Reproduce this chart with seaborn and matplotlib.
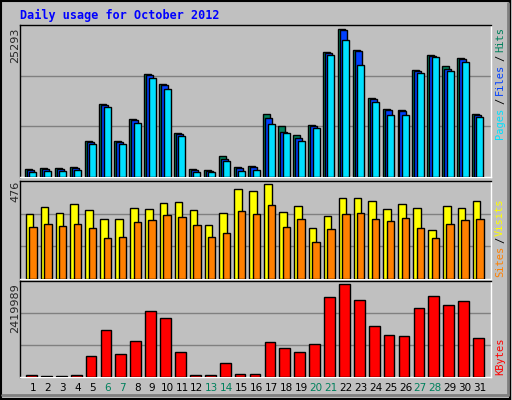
import numpy as np
import matplotlib
matplotlib.use("Agg")
import matplotlib.pyplot as plt
import seaborn as sns

days = list(range(1, 32))
hits = [1316,1490,1490,1660,6120,12470,6120,9900,17620,15910,7500,1316,1144,3600,1660,1830,
        10760,8700,7150,8870,21400,25293,21740,13500,11620,11440,18310,20890,19000,20370,10760]
files = [1150,1320,1320,1490,5950,12300,5950,9720,17450,15740,7330,1150,1000,3030,1490,1660,
         10070,7760,6630,8700,21230,25120,21570,13330,11440,11270,18140,20720,18480,20200,10590]
pages = [800,970,970,1144,5610,11960,5610,9210,16940,15050,6980,800,800,2690,970,1144,
         9040,7500,6120,8350,20890,23460,19170,12820,10590,10590,17800,20540,18140,19690,10240]
sites = [326,362,331,378,347,300,300,357,352,383,388,347,274,331,455,445,
         476,336,367,259,316,409,409,393,352,378,357,248,367,357,393]
visits = [264,279,269,279,259,207,212,285,295,321,310,274,212,233,341,326,
          373,264,300,186,254,326,331,300,290,305,259,207,279,295,300]
kbytes = [62000,26000,26000,62000,539000,1228000,592000,945000,1731000,1546000,645000,62000,62000,
          353000,88000,88000,910000,751000,645000,857000,2102000,2419989,2023000,1334000,1095000,
          1069000,1811000,2128000,1890000,1996000,1016000]
weekend = [6, 7, 13, 14, 20, 21, 27, 28]

C_HITS, C_FILES, C_PAGES = "#00805C", "#0040FF", "#00E0FF"
C_SITES, C_VISITS, C_KB = "#FFFF00", "#FF8000", "#FF0000"
BG = "#C0C0C0"

sns.set_style("white")
plt.rcParams['font.family'] = ['DejaVu Sans Mono', 'DejaVu Sans']

fig = plt.figure(figsize=(5.12, 4.0), dpi=100)
fig.patch.set_facecolor(BG)
d = np.array(days, dtype=float)
XL = (0.13, 31.74)

def panel(rect, series, ymax):
    ax = fig.add_axes(rect)
    ax.set_facecolor(BG)
    for vals, off, w, col in series:
        ax.bar(d + off, vals, width=w, color=col, edgecolor="black", linewidth=1, zorder=3)
    ax.set_xlim(*XL)
    ax.set_ylim(0, ymax)
    for f in (1/3, 2/3):
        ax.axhline(ymax * f, color="#808080", lw=1, zorder=1)
    ax.set_xticks([]); ax.set_yticks([])
    for s in ("left", "top"):
        ax.spines[s].set_color("black")
    for s in ("right", "bottom"):
        ax.spines[s].set_color("white")
    for s in ax.spines.values():
        s.set_linewidth(1)
    return ax

ax1 = panel([0.039, 0.5575, 0.92, 0.38],
            [(hits, -0.30, 0.47, C_HITS), (files, -0.17, 0.47, C_FILES), (pages, 0.0, 0.47, C_PAGES)],
            25293 * 455 / 442)
ax2 = panel([0.039, 0.3025, 0.92, 0.245],
            [(sites, -0.23, 0.51, C_SITES), (visits, 0.0, 0.5, C_VISITS)], 476 * 286 / 276)
ax3 = panel([0.039, 0.0575, 0.92, 0.24], [(kbytes, -0.1, 0.72, C_KB)], 2419989 * 284 / 274)

ax3.set_xticks(days)
ax3.set_xticklabels([str(x) for x in days], fontsize=7.5, fontfamily="DejaVu Sans")
ax3.tick_params(axis="x", length=0, pad=4)
for lab, dd in zip(ax3.get_xticklabels(), days):
    lab.set_color("#00805C" if dd in weekend else "black")

fig.text(20/512, 1 - 15/400, "Daily usage for October 2012", color="#0000FF",
         fontsize=8.5, fontweight="bold", va="center", ha="left")

def leftlab(y_top_px, txt):
    fig.text(15/512, 1 - y_top_px/400, txt, rotation=90, fontsize=8, ha="center", va="top",
             fontfamily="DejaVu Sans")
leftlab(28, "25293")
leftlab(181, "476")
leftlab(283, "2419989")

def rightlab(parts):
    for txt, col, ypx in parts:
        fig.text(500/512, 1 - ypx/400, txt, rotation=90, fontsize=7.5, ha="center", va="center",
                 color=col)
rightlab([("Hits", C_HITS, 40), ("/", "black", 58), ("Files", C_FILES, 79), ("/", "black", 101),
          ("Pages", C_PAGES, 123)])
rightlab([("Visits", C_SITES, 217), ("/", "black", 240), ("Sites", C_VISITS, 261)])
rightlab([("KBytes", C_KB, 356)])

fig.add_artist(plt.Rectangle((0.002, 0.003), 0.994, 0.994, transform=fig.transFigure,
                             fill=False, edgecolor="black", lw=1.5))
fig.add_artist(plt.Line2D([0.004, 0.992], [0.012, 0.012], transform=fig.transFigure, color="#808080", lw=2))
fig.add_artist(plt.Line2D([0.992, 0.992], [0.012, 0.992], transform=fig.transFigure, color="#808080", lw=2))

fig.savefig("out.png", dpi=100, facecolor=BG)
